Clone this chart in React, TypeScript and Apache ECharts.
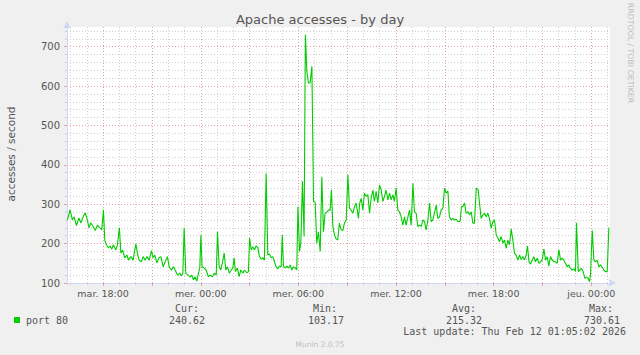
import React, { useEffect, useRef } from 'react';
import * as echarts from 'echarts';

// Hours counted from Tuesday 00:00
const hours = [
  15.81, 15.97, 16.11, 16.22, 16.36, 16.52, 16.63, 16.77, 16.89, 17.0, 17.14, 17.24, 17.4, 17.51, 17.65, 17.8, 17.92,
  18.02, 18.1, 18.2, 18.33, 18.43, 18.53, 18.63, 18.78, 18.88, 19.0, 19.09, 19.19, 19.33, 19.46, 19.56, 19.7, 19.84,
  20.01, 20.11, 20.21, 20.35, 20.46, 20.58, 20.69, 20.83, 20.97, 21.07, 21.18, 21.3, 21.44, 21.55, 21.69, 21.81, 21.95,
  22.06, 22.2, 22.32, 22.47, 22.57, 22.71, 22.81, 22.9, 22.98, 23.08, 23.22, 23.35, 23.45, 23.55, 23.65, 23.76, 23.86,
  23.94, 24.01, 24.08, 24.21, 24.33, 24.47, 24.58, 24.72, 24.84, 24.95, 25.03, 25.13, 25.23, 25.33, 25.44, 25.54, 25.64,
  25.76, 25.87, 25.97, 26.05, 26.13, 26.25, 26.36, 26.46, 26.59, 26.68, 26.83, 26.93, 27.0, 27.1, 27.2, 27.3, 27.4,
  27.51, 27.61, 27.71, 27.82, 27.91, 28.02, 28.12, 28.22, 28.33, 28.43, 28.53, 28.63, 28.74, 28.84, 28.94, 29.01, 29.08,
  29.2, 29.29, 29.39, 29.49, 29.6, 29.7, 29.8, 29.9, 29.97, 30.07, 30.15, 30.25, 30.35, 30.43, 30.52, 30.62, 30.72,
  30.83, 30.93, 31.03, 31.13, 31.23, 31.34, 31.44, 31.54, 31.64, 31.75, 31.85, 31.95, 32.03, 32.12, 32.22, 32.32, 32.42,
  32.52, 32.63, 32.73, 32.83, 32.94, 33.04, 33.14, 33.24, 33.35, 33.45, 33.55, 33.62, 33.69, 33.77, 33.86, 33.96, 34.06,
  34.16, 34.27, 34.37, 34.47, 34.58, 34.67, 34.78, 34.88, 34.98, 35.09, 35.19, 35.29, 35.39, 35.5, 35.6, 35.7, 35.81,
  35.9, 36.01, 36.11, 36.21, 36.32, 36.42, 36.52, 36.62, 36.73, 36.83, 36.93, 37.04, 37.13, 37.24, 37.34, 37.44, 37.55,
  37.65, 37.75, 37.85, 37.96, 38.06, 38.16, 38.26, 38.36, 38.47, 38.57, 38.67, 38.77, 38.88, 38.98, 39.08, 39.19, 39.28,
  39.39, 39.49, 39.59, 39.7, 39.8, 39.94, 40.02, 40.11, 40.21, 40.31, 40.42, 40.51, 40.62, 40.72, 40.82, 40.93, 41.05,
  41.13, 41.23, 41.34, 41.44, 41.54, 41.65, 41.74, 41.85, 41.95, 42.05, 42.16, 42.26, 42.36, 42.46, 42.57, 42.67, 42.77,
  42.87, 42.97, 43.08, 43.18, 43.28, 43.38, 43.49, 43.59, 43.69, 43.8, 43.89, 44.0, 44.08, 44.17, 44.26, 44.37, 44.47,
  44.57, 44.68, 44.78, 44.88, 44.98, 45.09, 45.19, 45.29, 45.39, 45.49, 45.6, 45.7, 45.8, 45.9, 46.01, 46.11, 46.21,
  46.32, 46.41, 46.52, 46.62, 46.72, 46.83, 46.93, 47.03, 47.09, 47.2, 47.3, 47.4, 47.5, 47.61, 47.71, 47.81, 47.89,
  47.95, 48.06, 48.16, 48.26, 48.36, 48.47, 48.57, 48.67, 48.77, 48.87, 48.98, 49.08,
];

const accesses = [
  260, 286, 260, 268, 246, 265, 252, 268, 278, 265, 240, 253, 243, 233, 247, 240, 235,
  286, 209, 197, 189, 194, 186, 197, 184, 197, 240, 176, 184, 164, 171, 158, 167, 158,
  199, 176, 158, 154, 167, 158, 167, 158, 182, 164, 171, 151, 164, 167, 141, 154, 167,
  141, 133, 141, 129, 120, 125, 118, 125, 240, 125, 120, 115, 120, 108, 116, 105, 125,
  138, 222, 141, 138, 133, 116, 120, 116, 125, 120, 230, 141, 133, 151, 176, 133, 141,
  125, 133, 138, 164, 129, 138, 116, 133, 125, 133, 126, 129, 214, 184, 192, 184, 194,
  189, 167, 161, 164, 158, 378, 171, 174, 164, 167, 154, 141, 136, 143, 141, 222, 143,
  138, 143, 138, 146, 133, 141, 138, 133, 294, 180, 202, 358, 218, 730.61, 637, 608, 608,
  650, 307, 305, 201, 230, 180, 370, 230, 277, 280, 285, 285, 336, 243, 222, 212, 209,
  252, 235, 233, 252, 260, 375, 290, 285, 277, 294, 303, 285, 264, 303, 315, 285, 328,
  320, 324, 277, 315, 336, 307, 333, 303, 349, 336, 307, 320, 336, 311, 328, 311, 324,
  307, 341, 285, 281, 268, 247, 268, 247, 268, 285, 247, 353, 281, 277, 243, 247, 243,
  260, 256, 235, 260, 303, 256, 260, 277, 298, 264, 268, 285, 290, 341, 328, 333, 268,
  260, 264, 260, 262, 256, 256, 294, 294, 303, 277, 281, 273, 281, 252, 252, 341, 336,
  303, 264, 273, 277, 268, 277, 264, 239, 256, 260, 222, 214, 205, 218, 201, 209, 188,
  209, 197, 237, 209, 175, 171, 158, 171, 160, 167, 158, 171, 194, 154, 148, 158, 167,
  154, 163, 150, 154, 158, 186, 158, 167, 143, 167, 158, 154, 154, 150, 184, 158, 163,
  158, 150, 141, 146, 137, 133, 136, 129, 253, 129, 133, 137, 129, 112, 115, 112, 103.17,
  120, 233, 158, 154, 158, 141, 146, 140, 133, 129, 129, 240.62,
];

const tickHours = [18, 24, 30, 36, 42, 48];
const tickLabels = ['mar. 18:00', 'mer. 00:00', 'mer. 06:00', 'mer. 12:00', 'mer. 18:00', 'jeu. 00:00'];
const statNames = ['Cur:', 'Min:', 'Avg:', 'Max:'];
const statValues = ['240.62', '103.17', '215.32', '730.61'];
const seriesName = 'port 80';
const titleText = 'Apache accesses - by day';
const yAxisTitle = 'accesses / second';
const lastUpdate = 'Last update: Thu Feb 12 01:05:02 2026';
const footer = 'Munin 2.0.75';
const watermark = 'RRDTOOL / TOBI OETIKER';

const X_MIN = 15.78;
const X_MAX = 49.15;
const Y_MIN = 100;
const Y_MAX = 750;

const FONT = 'DejaVu Sans';
const MONO = 'DejaVu Sans Mono';
const TEXT = '#555555';
const MAJOR = '#e4a4a4';
const MINOR = '#cfcfcf';
const AXIS = '#cfd6f8';
const GREEN = '#00cc00';

export default function App() {
  const ref = useRef<HTMLDivElement>(null);

  useEffect(() => {
    if (!ref.current) return;
    const chart = echarts.init(ref.current, null, { renderer: 'svg' });

    const statNameRight = [199, 337, 476, 613];
    const statValueRight = [205, 344, 482, 620];

    const graphics: any[] = [
      {
        type: 'text', x: 320, y: 19,
        style: { text: titleText, font: `13px "${FONT}"`, fill: TEXT, textAlign: 'center', textVerticalAlign: 'middle' },
      },
      {
        type: 'text', x: 11, y: 154, rotation: Math.PI / 2,
        style: { text: yAxisTitle, font: `10.5px "${FONT}"`, fill: TEXT, textAlign: 'center', textVerticalAlign: 'middle' },
      },
      {
        type: 'text', x: 630, y: 53, rotation: -Math.PI / 2,
        style: { text: watermark, font: `7.8px "${FONT}"`, fill: '#bdbdbd', textAlign: 'center', textVerticalAlign: 'middle' },
      },
      { type: 'rect', shape: { x: 14, y: 317, width: 6, height: 6 }, style: { fill: GREEN } },
      {
        type: 'text', x: 26, y: 320,
        style: { text: seriesName, font: `10px "${MONO}"`, fill: TEXT, textAlign: 'left', textVerticalAlign: 'middle' },
      },
      {
        type: 'text', x: 626, y: 331,
        style: { text: lastUpdate, font: `10px "${MONO}"`, fill: TEXT, textAlign: 'right', textVerticalAlign: 'middle' },
      },
      {
        type: 'text', x: 320, y: 344,
        style: { text: footer, font: `7.5px "${FONT}"`, fill: '#c0c0c0', textAlign: 'center', textVerticalAlign: 'middle' },
      },
    ];
    statNames.forEach((n, i) => {
      graphics.push({
        type: 'text', x: statNameRight[i], y: 308,
        style: { text: n, font: `10px "${MONO}"`, fill: TEXT, textAlign: 'right', textVerticalAlign: 'middle' },
      });
      graphics.push({
        type: 'text', x: statValueRight[i], y: 320,
        style: { text: statValues[i], font: `10px "${MONO}"`, fill: TEXT, textAlign: 'right', textVerticalAlign: 'middle' },
      });
    });

    const labelFor = (v: number) => {
      const i = tickHours.findIndex((h) => Math.abs(h - v) < 1e-6);
      return i >= 0 ? tickLabels[i] : '';
    };

    chart.setOption({
      animation: false,
      backgroundColor: '#f0f0f0',
      grid: { left: 67, right: 30, top: 27, bottom: 72, show: true, backgroundColor: '#ffffff', borderWidth: 0 },
      xAxis: [
        {
          type: 'value', min: X_MIN, max: X_MAX, minInterval: 3, maxInterval: 3, position: 'bottom', z: 1,
          axisLine: { show: true, lineStyle: { color: AXIS, width: 1 }, symbol: ['none', 'arrow'], symbolSize: [6, 8], symbolOffset: [0, 6] },
          axisTick: { show: true, length: 3, lineStyle: { color: MAJOR } },
          axisLabel: { margin: 5, color: TEXT, fontSize: 9.5, fontFamily: FONT, formatter: labelFor, showMinLabel: false, showMaxLabel: false },
          splitLine: { show: true, showMinLine: false, showMaxLine: false, lineStyle: { color: MAJOR, type: [1, 2], width: 1 } },
        },
        {
          type: 'value', min: X_MIN, max: X_MAX, minInterval: 1, maxInterval: 1, position: 'bottom', z: 0,
          axisLine: { show: false },
          axisTick: { show: true, length: 2, lineStyle: { color: MINOR } },
          axisLabel: { show: false },
          splitLine: { show: true, showMinLine: false, showMaxLine: false, lineStyle: { color: MINOR, type: [1, 2], width: 1 } },
        },
      ],
      yAxis: [
        {
          type: 'value', min: Y_MIN, max: Y_MAX, interval: 100, position: 'left', z: 1,
          axisLine: { show: true, lineStyle: { color: AXIS, width: 1 }, symbol: ['none', 'arrow'], symbolSize: [6, 8], symbolOffset: [0, 6] },
          axisTick: { show: true, length: 3, lineStyle: { color: MAJOR } },
          axisLabel: { margin: 7, color: TEXT, fontSize: 10, fontFamily: FONT, showMaxLabel: false },
          splitLine: { show: true, showMinLine: false, showMaxLine: false, lineStyle: { color: MAJOR, type: [1, 2], width: 1 } },
        },
        {
          type: 'value', min: Y_MIN, max: Y_MAX, interval: 20, position: 'left', z: 0,
          axisLine: { show: false },
          axisTick: { show: true, length: 2, lineStyle: { color: MINOR } },
          axisLabel: { show: false },
          splitLine: { show: true, showMinLine: false, showMaxLine: false, lineStyle: { color: MINOR, type: [1, 2], width: 1 } },
        },
      ],
      series: [
        {
          name: seriesName, type: 'line', xAxisIndex: 0, yAxisIndex: 0, z: 3,
          data: hours.map((h, i) => [h, accesses[i]]),
          showSymbol: false, symbol: 'none',
          lineStyle: { color: GREEN, width: 1.1 },
        },
      ],
      graphic: graphics,
    });

    return () => chart.dispose();
  }, []);

  return <div ref={ref} style={{ position: 'fixed', left: 0, top: 0, width: 640, height: 355 }} />;
}
